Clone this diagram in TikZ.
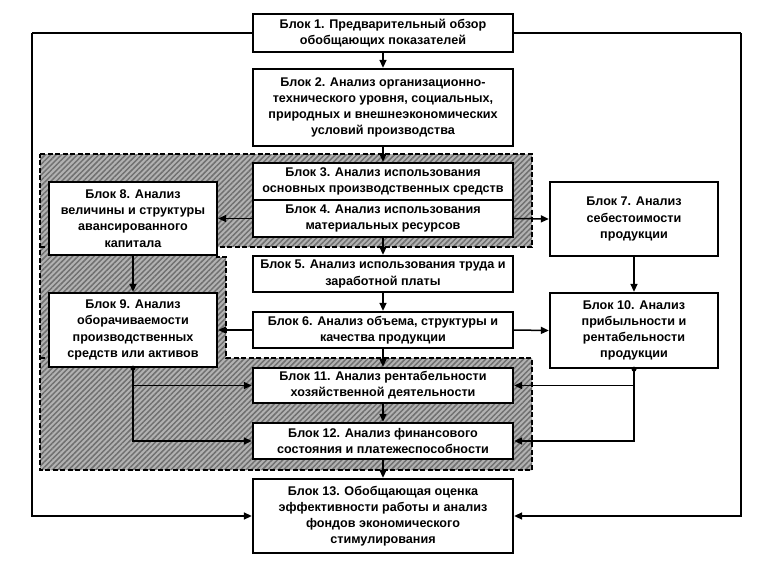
\documentclass[tikz,border=0pt]{standalone}
\usepackage{fontspec}
\setmainfont{Liberation Sans}
\usetikzlibrary{arrows.meta,patterns.meta}
\begin{document}
\begin{tikzpicture}[x=1pt,y=-1pt,
  blk/.style={draw, line width=2.3pt, fill=white, align=center, inner sep=0pt,
    font=\bfseries\fontsize{12.6}{16.2}\selectfont},
  cwide/.style={minimum width=260pt},
  side/.style={minimum width=168pt},
  conn/.style={line width=1.5pt, -{Triangle[length=8pt,width=7pt]}},
  plain/.style={line width=1.5pt},
  hatchedge/.style={line width=2pt, dash pattern=on 5pt off 2.5pt},
  jdot/.style={circle, fill=black, inner sep=0pt, minimum size=5pt}]
\useasboundingbox (0,0) rectangle (766,560);
\fill[white] (0,0) rectangle (766,560);
% hatched region
\def\hreg{(40,154) -- (532,154) -- (532,247) -- (217,247) -- (217,257) -- (226,257) -- (226,358) -- (532,358) -- (532,470) -- (40,470) -- cycle}
\fill[black!30] \hreg;
\fill[pattern={Lines[angle=45,distance=3.8pt,line width=1.5pt]}, pattern color=black!56] \hreg;
\draw[hatchedge] \hreg;
\draw[hatchedge] (40,247) -- (49,247);
\draw[hatchedge] (40,358) -- (49,358);
% blocks
\node[blk,cwide,minimum height=38pt] (b1) at (383,33) {Блок 1. Предварительный обзор\\обобщающих показателей};
\node[blk,cwide,minimum height=77pt] (b2) at (383,107.5) {Блок 2. Анализ организационно-\\технического уровня, социальных,\\природных и внешнеэкономических\\условий производства};
\node[blk,cwide,minimum height=37pt] (b3) at (383,181.5) {Блок 3. Анализ использования\\основных производственных средств};
\node[blk,cwide,minimum height=37pt] (b4) at (383,218.5) {Блок 4. Анализ использования\\материальных ресурсов};
\node[blk,cwide,minimum height=36pt] (b5) at (383,274) {Блок 5. Анализ использования труда и\\заработной платы};
\node[blk,cwide,minimum height=36pt] (b6) at (383,330) {Блок 6. Анализ объема, структуры и\\качества продукции};
\node[blk,cwide,minimum height=35pt] (b11) at (383,385.5) {Блок 11. Анализ рентабельности\\хозяйственной деятельности};
\node[blk,cwide,minimum height=36pt] (b12) at (383,441) {Блок 12. Анализ финансового\\состояния и платежеспособности};
\node[blk,cwide,minimum height=74pt] (b13) at (383,516) {Блок 13. Обобщающая оценка\\эффективности работы и анализ\\фондов экономического\\стимулирования};
\node[blk,side,minimum height=73pt] (b8) at (133,218.5) {Блок 8. Анализ\\величины и структуры\\авансированного\\капитала};
\node[blk,side,minimum height=74pt] (b9) at (133,330) {Блок 9. Анализ\\оборачиваемости\\производственных\\средств или активов};
\node[blk,side,minimum height=74pt] (b7) at (634,219) {Блок 7. Анализ\\себестоимости\\продукции};
\node[blk,side,minimum height=75pt] (b10) at (634,330.5) {Блок 10. Анализ\\прибыльности и\\рентабельности\\продукции};
% outer loop
\coordinate (ol1) at (32,33);
\coordinate (ol2) at (32,516);
\coordinate (or1) at (741,33);
\coordinate (or2) at (741,516);
\draw[plain] (b1.west) -- (ol1);
\draw[conn] (ol1) -- (ol2) -- (b13.west);
\draw[plain] (b1.east) -- (or1);
\draw[conn] (or1) -- (or2) -- (b13.east);
% central chain
\draw[conn] (b1.south) -- (b2.north);
\draw[conn] (b2.south) -- (b3.north);
\draw[conn] (b4.south) -- (b5.north);
\draw[conn] (b5.south) -- (b6.north);
\draw[conn] (b6.south) -- (b11.north);
\draw[conn] (b11.south) -- (b12.north);
\draw[conn] (b12.south) -- (b13.north);
% sides
\draw[conn] (b4.west) -- (b8.east);
\draw[conn] (b4.east) -- (b7.west);
\draw[conn] (b6.west) -- (b9.east);
\draw[conn] (b6.east) -- (b10.west);
\draw[conn] (b8.south) -- (b9.north);
\draw[conn] (b7.south) -- (b10.north);
\node[jdot] (d9) at (b9.south) {};
\node[jdot] (d10) at (b10.south) {};
\draw[conn] (d9.center) |- (b11.west);
\draw[conn] (d9.center) |- (b12.west);
\draw[conn] (d10.center) |- (b11.east);
\draw[conn] (d10.center) |- (b12.east);
\end{tikzpicture}
\end{document}
